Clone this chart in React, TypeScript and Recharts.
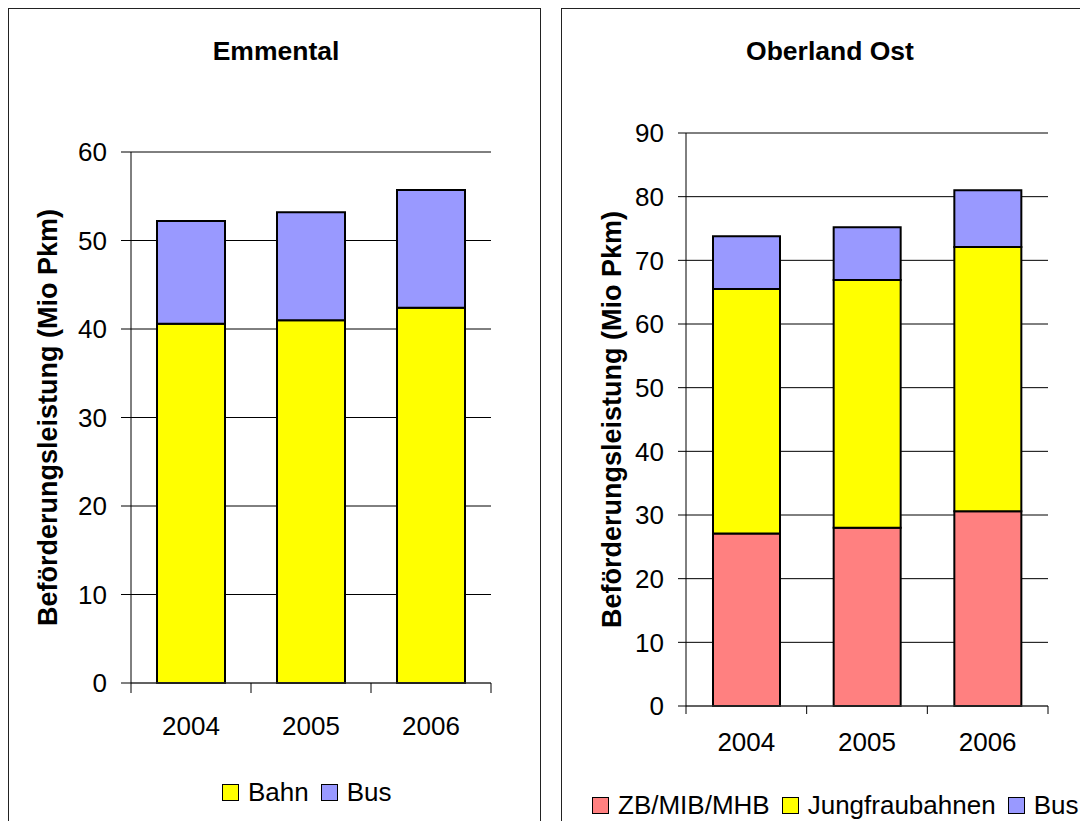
import { BarChart, Bar, XAxis, YAxis, CartesianGrid, Legend } from "recharts";

const FONT = "'Liberation Sans', Arial, Helvetica, sans-serif";

const years = ["2004", "2005", "2006"];

// Emmental (Mio Pkm)
const emmentalBahn = [40.6, 41.0, 42.4];
const emmentalBus = [11.6, 12.2, 13.3];
const emmentalTicks = [0, 10, 20, 30, 40, 50, 60];

// Oberland Ost (Mio Pkm)
const ostZb = [27.1, 28.0, 30.6];
const ostJungfrau = [38.4, 38.9, 41.5];
const ostBus = [8.3, 8.3, 8.9];
const ostTicks = [0, 10, 20, 30, 40, 50, 60, 70, 80, 90];

const yLabel = "Beförderungsleistung (Mio Pkm)";

interface SeriesDef {
  key: string;
  name: string;
  values: number[];
  color: string;
}

interface PanelProps {
  left: number;
  top: number;
  width: number;
  height: number;
  title: string;
  titleCx: number;
  series: SeriesDef[];
  ticks: number[];
  margin: { top: number; right: number; bottom: number; left: number };
  yAxisWidth: number;
  yTickSize: number;
  yLabelX: number;
  xLabelDy: number;
  xTickLen: number;
  barSize: number;
  legendX: number;
  legendY: number;
}

const X_AXIS_HEIGHT = 60;

const StackPanel = (p: PanelProps) => {
  const data = years.map((year, i) => {
    const row: Record<string, string | number> = { year };
    p.series.forEach((s) => (row[s.key] = s.values[i]));
    return row;
  });
  const plotWidth = p.width - p.margin.left - p.margin.right - p.yAxisWidth;
  const half = plotWidth / years.length / 2;
  const maxTick = p.ticks[p.ticks.length - 1];

  const XTick = (props: any) => {
    const { x, y, payload, index } = props;
    return (
      <g>
        <line x1={x - half} x2={x - half} y1={y} y2={y + p.xTickLen} stroke="#000" />
        {index === years.length - 1 && (
          <line x1={x + half} x2={x + half} y1={y} y2={y + p.xTickLen} stroke="#000" />
        )}
        <text
          x={x}
          y={y + p.xLabelDy}
          textAnchor="middle"
          dominantBaseline="central"
          fontFamily={FONT}
          fontSize={26}
          fill="#000"
        >
          {payload.value}
        </text>
      </g>
    );
  };

  const renderYLabel = (props: any) => {
    const vb = props.viewBox;
    const cx = vb.x + p.yLabelX;
    const cy = vb.y + vb.height / 2;
    return (
      <text
        x={cx}
        y={cy}
        transform={`rotate(-90, ${cx}, ${cy})`}
        textAnchor="middle"
        dominantBaseline="central"
        fontFamily={FONT}
        fontSize={27}
        fontWeight="bold"
        fill="#000"
      >
        {yLabel}
      </text>
    );
  };

  // legend keeps the series order (bottom segment first)
  const renderLegend = () => (
    <div style={{ display: "flex", alignItems: "center", fontFamily: FONT, fontSize: 26, whiteSpace: "nowrap", color: "#000" }}>
      {p.series.map((s) => (
        <span key={s.key} style={{ display: "flex", alignItems: "center", marginRight: 12 }}>
          <span
            style={{
              width: 15,
              height: 15,
              border: "1.5px solid #000",
              background: s.color,
              marginRight: 9,
            }}
          />
          <span style={{ lineHeight: "30px" }}>{s.name}</span>
        </span>
      ))}
    </div>
  );

  return (
    <>
      <div
        style={{
          position: "absolute",
          left: p.left,
          top: p.top,
          width: p.width,
          height: p.height,
          borderLeft: "1.5px solid #222",
          borderTop: "1.5px solid #222",
          borderRight: p.left < 100 ? "1.5px solid #222" : "none",
          boxSizing: "border-box",
        }}
      />
      <div
        style={{
          position: "absolute",
          left: p.titleCx - 200,
          top: 36,
          width: 400,
          height: 30,
          lineHeight: "30px",
          textAlign: "center",
          fontFamily: FONT,
          fontSize: 26.5,
          fontWeight: "bold",
          color: "#000",
        }}
      >
        {p.title}
      </div>
      <div style={{ position: "absolute", left: p.left, top: p.top }}>
        <BarChart
          width={p.width}
          height={p.height}
          data={data}
          margin={{ ...p.margin, bottom: p.margin.bottom - X_AXIS_HEIGHT }}
        >
          <CartesianGrid vertical={false} stroke="#000" />
          <XAxis
            dataKey="year"
            height={X_AXIS_HEIGHT}
            tickSize={0}
            tickMargin={0}
            tickLine={false}
            axisLine={{ stroke: "#444" }}
            tick={<XTick />}
            interval={0}
          />
          <XAxis
            xAxisId="top"
            orientation="top"
            dataKey="year"
            height={0}
            tick={false}
            tickLine={false}
            axisLine={{ stroke: "#999" }}
          />
          <YAxis
            width={p.yAxisWidth}
            domain={[0, maxTick]}
            ticks={p.ticks}
            interval={0}
            tickSize={p.yTickSize}
            tickMargin={14}
            tickLine={{ stroke: "#000" }}
            axisLine={{ stroke: "#000" }}
            tick={{ fill: "#000", fontSize: 26, fontFamily: FONT }}
            label={renderYLabel}
          />
          <YAxis
            yAxisId="right"
            orientation="right"
            width={0}
            domain={[0, maxTick]}
            tick={false}
            tickLine={false}
            axisLine={{ stroke: "#999" }}
          />
          {p.series.map((s) => (
            <Bar
              key={s.key}
              dataKey={s.key}
              name={s.name}
              stackId="a"
              fill={s.color}
              stroke="#000"
              strokeWidth={2}
              barSize={p.barSize}
              isAnimationActive={false}
            />
          ))}
          <Legend
            verticalAlign="middle"
            align="center"
            layout="horizontal"
            content={renderLegend}
            wrapperStyle={{ left: p.legendX, top: p.legendY - 15, width: "auto", height: 30 }}
          />
        </BarChart>
      </div>
    </>
  );
};

const App = () => (
  <div style={{ position: "fixed", left: 0, top: 0, width: 1080, height: 821, overflow: "hidden", background: "#fff" }}>
    <StackPanel
      left={8}
      top={8}
      width={533}
      height={813}
      title="Emmental"
      titleCx={276}
      series={[
        { key: "bahn", name: "Bahn", values: emmentalBahn, color: "#FFFF00" },
        { key: "bus", name: "Bus", values: emmentalBus, color: "#9999FF" },
      ]}
      ticks={emmentalTicks}
      margin={{ top: 144, right: 50, bottom: 138, left: 0 }}
      yAxisWidth={123}
      yTickSize={10}
      yLabelX={40}
      xLabelDy={43}
      xTickLen={10}
      barSize={68}
      legendX={214}
      legendY={784}
    />
    <StackPanel
      left={561}
      top={8}
      width={519}
      height={813}
      title="Oberland Ost"
      titleCx={830}
      series={[
        { key: "zb", name: "ZB/MIB/MHB", values: ostZb, color: "#FF8080" },
        { key: "jungfrau", name: "Jungfraubahnen", values: ostJungfrau, color: "#FFFF00" },
        { key: "bus", name: "Bus", values: ostBus, color: "#9999FF" },
      ]}
      ticks={ostTicks}
      margin={{ top: 125, right: 32, bottom: 115, left: 0 }}
      yAxisWidth={125}
      yTickSize={8}
      yLabelX={51}
      xLabelDy={36}
      xTickLen={8}
      barSize={67}
      legendX={31}
      legendY={797}
    />
  </div>
);

export default App;
